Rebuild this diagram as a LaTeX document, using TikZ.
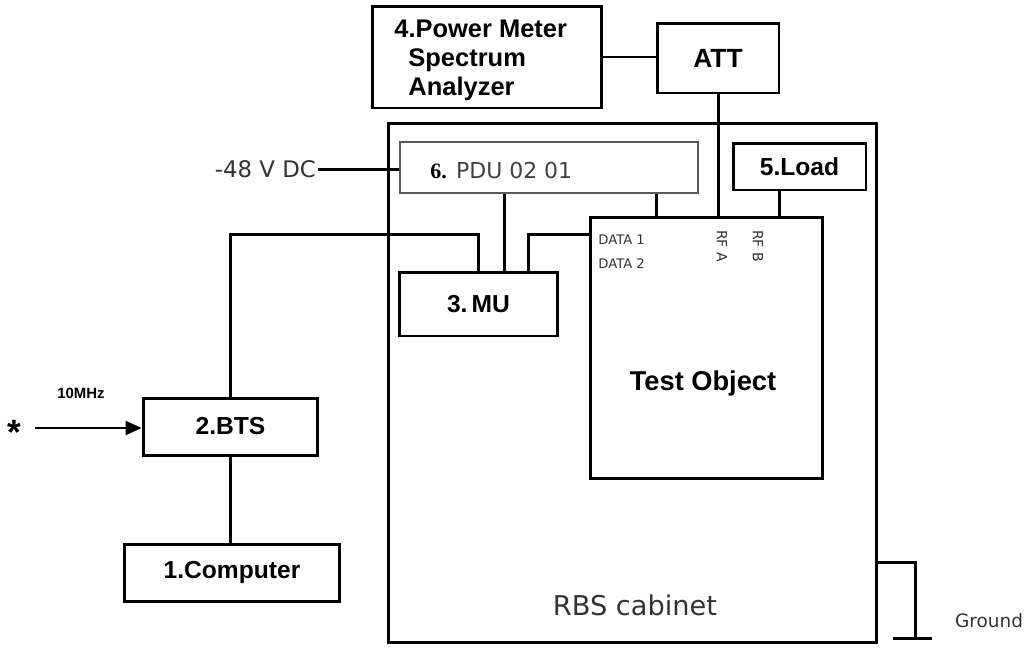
\documentclass[tikz,border=0pt]{standalone}
\usepackage{fontspec}
\setmainfont{Liberation Sans}
\newfontfamily\dvsans{DejaVu Sans}
\newfontfamily\serifbf{Liberation Serif}
\usepackage{xcolor}
\usepackage{tikz}
\usetikzlibrary{arrows.meta, calc}

\tikzset{
  box/.style={draw, line width=1.7pt, inner sep=0pt, font=\bfseries\fontsize{14}{16.2}\selectfont},
  wire/.style={line width=1.7pt},
  thinwire/.style={line width=0.9pt},
  port/.style={font=\dvsans\fontsize{7.5}{8}\selectfont, inner sep=0pt, text=black!80}
}

\begin{document}
\begin{tikzpicture}[x=0.02cm, y=-0.02cm]
        \useasboundingbox (0,0) rectangle (1031,647);

        \node[box, minimum width=4.6cm, minimum height=2.04cm] (pm) at (487,57) {};
        \node[anchor=west, inner sep=0pt, align=left, font=\bfseries\fontsize{14.5}{16.5}\selectfont] (pmtext) at (394,60) {4.Power Meter\\\hspace{8pt}Spectrum\\\hspace{8pt}Analyzer};
        \node[box, minimum width=2.44cm, minimum height=1.4cm, font=\bfseries\fontsize{15}{17}\selectfont] (att) at (718,58) {ATT};
        \node[box, minimum width=9.78cm, minimum height=10.4cm] (cab) at (632.5,383) {};
        \node[draw=black!65, line width=0.9pt, minimum width=5.96cm, minimum height=1.02cm, inner sep=0pt] (pdu) at (549,167.5) {};
        \node[anchor=west, inner sep=0pt, text=black!75, font=\dvsans\fontsize{12.5}{14}\selectfont] (pdutext) at (430,170) {{\serifbf\bfseries\color{black}6.} PDU 02 01};
        \node[box, minimum width=2.66cm, minimum height=0.94cm] (load) at (799.5,166.5) {5.Load};
        \node[box, minimum width=4.66cm, minimum height=5.24cm] (test) at (706.5,348) {};
        \node[font=\bfseries\fontsize{15.5}{18}\selectfont] (testtext) at (703,383) {Test Object};
        \node[box, minimum width=3.18cm, minimum height=1.28cm] (mu) at (478.5,304) {3.\,MU};
        \node[box, minimum width=3.5cm, minimum height=1.14cm] (bts) at (230.5,426.5) {2.BTS};
        \node[box, minimum width=4.32cm, minimum height=1.14cm] (comp) at (232,572.5) {1.Computer};

        \node[font=\dvsans\fontsize{15.5}{18}\selectfont, text=black!80] (rbs) at (635,605) {RBS cabinet};
        \node[port, anchor=west] (data1) at (598,240) {DATA 1};
        \node[port, anchor=west] (data2) at (598,264) {DATA 2};
        \node[port, rotate=-90, font=\dvsans\fontsize{8}{9}\selectfont] (rfa) at (722,246) {RF A};
        \node[port, rotate=-90, font=\dvsans\fontsize{8}{9}\selectfont] (rfb) at (758,246) {RF B};

        \coordinate (dc) at (318,169);
        \node[anchor=east, inner sep=1pt, text=black!80, font=\dvsans\fontsize{13}{15}\selectfont] (dctext) at (dc) {-48 V DC};
        \coordinate (d1) at (590,234);
        \coordinate (src) at (35,428);
        \node[font=\bfseries\fontsize{20}{20}\selectfont] (star) at (14,432) {*};
        \node[font=\bfseries\fontsize{8.5}{10}\selectfont] (mhz) at (81,393) {10MHz};
        \coordinate (gnd) at (915,638);

        \draw[thinwire] (pm.east) -- (pm.east -| att.west);
        \draw[wire] (att.south) -- (att.south |- test.north);
        \draw[wire] (dc) -- (dc -| pdu.west);
        \draw[wire] ($(load.south west)!0.35!(load.south east)$) coordinate (ld) -- (ld |- test.north);
        \draw[wire] ($(pdu.south west)!0.86!(pdu.south east)$) coordinate (pt) -- (pt |- test.north);
        \draw[wire] ($(pdu.south west)!0.352!(pdu.south east)$) coordinate (pm2) -- (pm2 |- mu.north);
        \draw[wire] (d1) -| ($(mu.north west)!0.81!(mu.north east)$);
        \draw[wire] (bts.north) |- (mu.north |- d1) -- (mu.north);
        \draw[wire] (bts.south) -- (bts.south |- comp.north);
        \draw[thinwire, -{Triangle[length=9pt, width=8pt]}] (src) -- (src -| bts.west);

        \draw[wire] (cab.east |- 0,562) -| (gnd);
        \draw[wire] (gnd) ++(-22,0) -- ++(39,0);
        \node[font=\dvsans\fontsize{10.5}{12}\selectfont, text=black!80] (ground) at (989,621) {Ground};
\end{tikzpicture}
\end{document}
